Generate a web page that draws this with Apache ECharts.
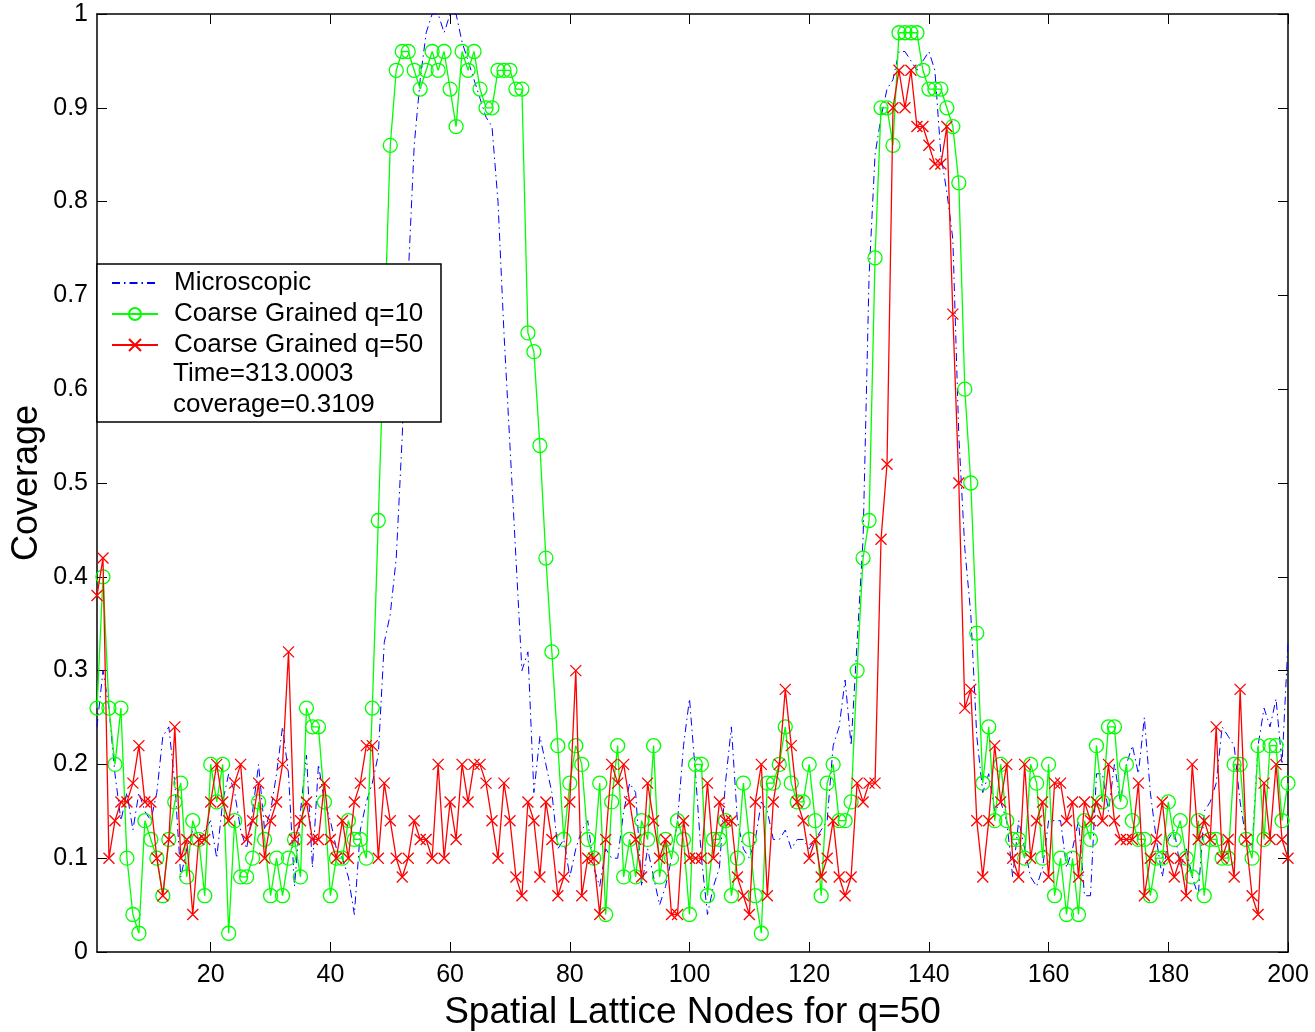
<!DOCTYPE html>
<html>
<head>
<meta charset="utf-8">
<script src="https://cdn.jsdelivr.net/npm/echarts@6/dist/echarts.min.js"></script>
<style>
html,body{margin:0;padding:0;background:#fff;}
#chart{width:1315px;height:1032px;}
</style>
</head>
<body>
<div id="chart"></div>
<script>
// Node index 1..200 (spatial lattice nodes, q=50)
const nodeCount = 200;
const xTicks = [20, 40, 60, 80, 100, 120, 140, 160, 180, 200];

// Microscopic coverage (blue dash-dot)
const microscopic = [
0.24,0.30,0.26,0.19,0.14,0.17,0.13,0.17,0.15,0.14,
0.17,0.23,0.24,0.18,0.08,0.11,0.13,0.12,0.13,0.14,
0.10,0.16,0.19,0.17,0.13,0.11,0.15,0.20,0.13,0.15,
0.19,0.24,0.19,0.07,0.15,0.21,0.09,0.20,0.16,0.14,
0.11,0.10,0.08,0.04,0.13,0.16,0.18,0.21,0.33,0.36,
0.42,0.55,0.72,0.86,0.93,0.98,1.00,1.00,0.98,1.00,
1.00,0.97,0.95,0.93,0.91,0.89,0.88,0.80,0.66,0.54,
0.42,0.30,0.32,0.17,0.23,0.20,0.17,0.11,0.12,0.08,
0.11,0.13,0.14,0.09,0.07,0.11,0.10,0.10,0.15,0.18,
0.17,0.07,0.11,0.08,0.05,0.07,0.10,0.14,0.22,0.27,
0.19,0.10,0.04,0.07,0.09,0.18,0.24,0.14,0.11,0.10,
0.12,0.16,0.15,0.12,0.12,0.13,0.11,0.12,0.12,0.11,
0.12,0.13,0.14,0.22,0.24,0.29,0.22,0.33,0.44,0.72,
0.85,0.89,0.92,0.93,0.96,0.96,0.95,0.94,0.95,0.96,
0.94,0.85,0.81,0.76,0.55,0.43,0.36,0.23,0.17,0.19,
0.15,0.16,0.14,0.08,0.14,0.11,0.08,0.07,0.09,0.14,
0.14,0.14,0.09,0.11,0.14,0.06,0.06,0.19,0.19,0.15,
0.20,0.16,0.20,0.22,0.19,0.25,0.17,0.12,0.08,0.12,
0.13,0.09,0.11,0.08,0.06,0.15,0.16,0.18,0.24,0.23,
0.22,0.16,0.12,0.11,0.22,0.26,0.24,0.27,0.20,0.33
];

// Coarse grained q=10 (green, circles)
const coarseQ10 = [
0.26,0.40,0.26,0.20,0.26,0.10,0.04,0.02,0.14,0.12,
0.10,0.06,0.12,0.16,0.18,0.08,0.14,0.12,0.06,0.20,
0.16,0.20,0.02,0.14,0.08,0.08,0.10,0.16,0.12,0.06,
0.10,0.06,0.10,0.12,0.08,0.26,0.24,0.24,0.16,0.06,
0.10,0.10,0.14,0.12,0.12,0.10,0.26,0.46,0.66,0.86,
0.94,0.96,0.96,0.94,0.92,0.94,0.96,0.94,0.96,0.92,
0.88,0.96,0.94,0.96,0.92,0.90,0.90,0.94,0.94,0.94,
0.92,0.92,0.66,0.64,0.54,0.42,0.32,0.22,0.12,0.18,
0.22,0.20,0.12,0.10,0.18,0.04,0.16,0.22,0.08,0.12,
0.08,0.14,0.12,0.22,0.08,0.12,0.10,0.14,0.12,0.04,
0.20,0.20,0.06,0.12,0.12,0.14,0.06,0.10,0.18,0.12,
0.06,0.02,0.18,0.18,0.20,0.24,0.18,0.16,0.16,0.20,
0.14,0.06,0.18,0.20,0.14,0.14,0.16,0.30,0.42,0.46,
0.74,0.90,0.90,0.86,0.98,0.98,0.98,0.98,0.94,0.92,
0.92,0.92,0.90,0.88,0.82,0.60,0.50,0.34,0.18,0.24,
0.14,0.20,0.14,0.12,0.12,0.10,0.20,0.18,0.10,0.20,
0.06,0.10,0.04,0.10,0.04,0.14,0.12,0.22,0.16,0.24,
0.24,0.16,0.20,0.14,0.12,0.12,0.06,0.10,0.10,0.16,
0.12,0.14,0.10,0.08,0.14,0.06,0.12,0.12,0.10,0.10,
0.20,0.20,0.12,0.10,0.22,0.12,0.22,0.22,0.14,0.18
];

// Coarse grained q=50 (red, crosses)
const coarseQ50 = [
0.38,0.42,0.10,0.14,0.16,0.16,0.18,0.22,0.16,0.16,
0.10,0.06,0.12,0.24,0.10,0.12,0.04,0.12,0.12,0.16,
0.20,0.16,0.14,0.18,0.20,0.12,0.14,0.18,0.10,0.14,
0.16,0.20,0.32,0.12,0.14,0.16,0.12,0.12,0.18,0.12,
0.10,0.14,0.10,0.16,0.18,0.22,0.22,0.10,0.18,0.14,
0.10,0.08,0.10,0.14,0.12,0.12,0.10,0.20,0.10,0.16,
0.12,0.20,0.16,0.20,0.20,0.18,0.14,0.10,0.18,0.14,
0.08,0.06,0.16,0.14,0.08,0.16,0.12,0.06,0.08,0.16,
0.30,0.06,0.10,0.10,0.04,0.12,0.20,0.18,0.20,0.16,
0.12,0.08,0.18,0.14,0.10,0.12,0.04,0.04,0.14,0.10,
0.10,0.10,0.18,0.10,0.16,0.14,0.14,0.08,0.06,0.04,
0.16,0.20,0.06,0.16,0.20,0.28,0.22,0.16,0.14,0.10,
0.12,0.08,0.10,0.14,0.08,0.06,0.08,0.18,0.16,0.18,
0.18,0.44,0.52,0.90,0.94,0.90,0.94,0.88,0.88,0.86,
0.84,0.84,0.88,0.68,0.50,0.26,0.28,0.14,0.08,0.14,
0.22,0.16,0.20,0.10,0.08,0.20,0.10,0.14,0.16,0.08,
0.18,0.18,0.14,0.16,0.08,0.16,0.14,0.16,0.14,0.20,
0.14,0.12,0.12,0.12,0.18,0.06,0.10,0.12,0.16,0.10,
0.08,0.10,0.06,0.20,0.12,0.14,0.12,0.24,0.10,0.12,
0.08,0.28,0.12,0.06,0.04,0.18,0.12,0.20,0.12,0.10
];

const legendNames = ['Microscopic', 'Coarse Grained q=10', 'Coarse Grained q=50'];
const legendExtra = ['Time=313.0003', 'coverage=0.3109'];

function pairs(arr) { return arr.map((v, i) => [i + 1, v]); }

const FONT = '"Liberation Sans", Arial, Helvetica, sans-serif';
const chart = echarts.init(document.getElementById('chart'), null, {renderer: 'canvas'});

const axisLineStyle = {color: '#000', width: 1.5};
const crossPath = 'path://M0,0L10,10M10,0L0,10';

chart.setOption({
  animation: false,
  backgroundColor: '#fff',
  grid: {left: 97, right: 27, top: 14, bottom: 80, containLabel: false, outerBoundsMode: 'none'},
  xAxis: [
    {
      type: 'value', min: 1, max: nodeCount, position: 'bottom',
      axisLine: {show: true, onZero: false, lineStyle: axisLineStyle},
      axisTick: {show: true, inside: true, length: 10, customValues: xTicks, lineStyle: {color: '#000', width: 1}},
      axisLabel: {show: true, customValues: xTicks, color: '#000', fontSize: 25, fontFamily: FONT, margin: 11},
      splitLine: {show: false},
      name: 'Spatial Lattice Nodes for q=50', nameLocation: 'middle', nameGap: 42,
      nameTextStyle: {color: '#000', fontSize: 37, fontFamily: FONT}
    },
    {
      type: 'value', min: 1, max: nodeCount, position: 'top',
      axisLine: {show: true, onZero: false, lineStyle: axisLineStyle},
      axisTick: {show: true, inside: true, length: 10, customValues: xTicks, lineStyle: {color: '#000', width: 1}},
      axisLabel: {show: false},
      splitLine: {show: false}
    }
  ],
  yAxis: [
    {
      type: 'value', min: 0, max: 1, interval: 0.1, position: 'left',
      axisLine: {show: true, onZero: false, lineStyle: axisLineStyle},
      axisTick: {show: true, inside: true, length: 10, lineStyle: {color: '#000', width: 1}},
      axisLabel: {color: '#000', fontSize: 25, fontFamily: FONT, margin: 9},
      splitLine: {show: false},
      name: 'Coverage', nameLocation: 'middle', nameGap: 52, nameRotate: 90, nameMoveOverlap: false,
      nameTextStyle: {color: '#000', fontSize: 36, fontFamily: FONT}
    },
    {
      type: 'value', min: 0, max: 1, interval: 0.1, position: 'right',
      axisLine: {show: true, onZero: false, lineStyle: axisLineStyle},
      axisTick: {show: true, inside: true, length: 10, lineStyle: {color: '#000', width: 1}},
      axisLabel: {show: false},
      splitLine: {show: false}
    }
  ],
  legend: {
    data: [
      {name: legendNames[0], itemStyle: {opacity: 0}},
      legendNames[1],
      legendNames[2]
    ],
    orient: 'vertical',
    left: 111, top: 270,
    padding: 0,
    itemGap: 5,
    itemWidth: 46, itemHeight: 15,
    textStyle: {color: '#000', fontSize: 26, fontFamily: FONT, padding: [0, 0, 0, 11]},
    selectedMode: false,
    z: 60
  },
  graphic: [
    {type: 'rect', z: 50, shape: {x: 97, y: 264, width: 344, height: 158},
     style: {fill: '#fff', stroke: '#000', lineWidth: 1.5}},
    {type: 'text', z: 60, x: 173, y: 374,
     style: {text: legendExtra[0], fill: '#000', font: '26px ' + FONT, verticalAlign: 'middle'}},
    {type: 'text', z: 60, x: 173, y: 405,
     style: {text: legendExtra[1], fill: '#000', font: '26px ' + FONT, verticalAlign: 'middle'}}
  ],
  series: [
    {
      name: legendNames[0], type: 'line', data: pairs(microscopic),
      symbol: 'none', showSymbol: false,
      lineStyle: {color: '#0000ff', width: 1, type: [8, 4, 1.5, 4]},
      itemStyle: {color: '#0000ff'},
      z: 2
    },
    {
      name: legendNames[1], type: 'line', data: pairs(coarseQ10),
      symbol: 'circle', symbolSize: 14, showSymbol: true,
      lineStyle: {color: '#00ff00', width: 1.3},
      itemStyle: {color: 'rgba(0,0,0,0)', borderColor: '#00ff00', borderWidth: 1.3},
      z: 3
    },
    {
      name: legendNames[2], type: 'line', data: pairs(coarseQ50),
      symbol: crossPath, symbolSize: 11, showSymbol: true,
      lineStyle: {color: '#ff0000', width: 1.3},
      itemStyle: {color: 'rgba(0,0,0,0)', borderColor: '#ff0000', borderWidth: 1.3},
      z: 4
    }
  ]
});
</script>
</body>
</html>
